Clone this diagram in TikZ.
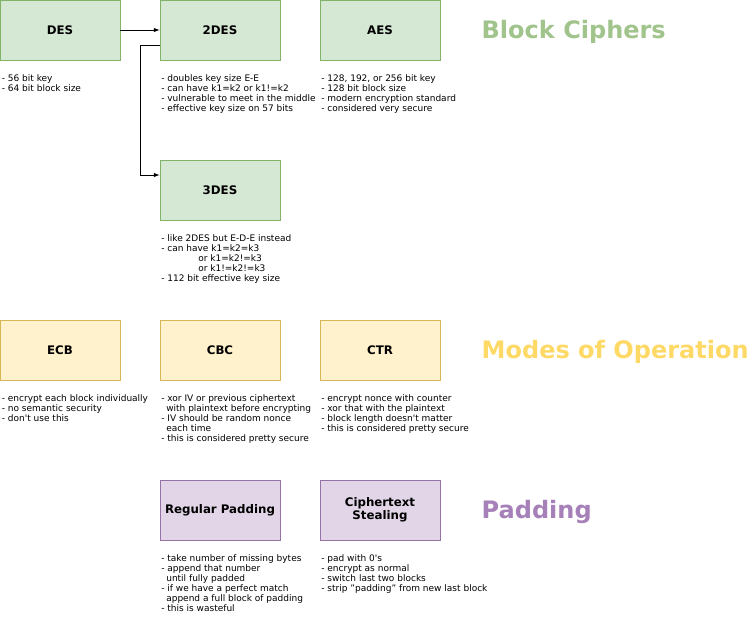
\documentclass[tikz,border=0pt]{standalone}
\usepackage{fontspec}
\setmainfont{DejaVu Sans}

% box and title colours
\definecolor{fillgreen}{HTML}{D5E8D4}
\definecolor{linegreen}{HTML}{82B366}
\definecolor{fillyellow}{HTML}{FFF2CC}
\definecolor{lineyellow}{HTML}{D6B656}
\definecolor{fillpurple}{HTML}{E1D5E7}
\definecolor{linepurple}{HTML}{9673A6}
\definecolor{titlegreen}{HTML}{A0C48C}
\definecolor{titleyellow}{HTML}{FFD966}
\definecolor{titlepurple}{HTML}{A680B8}

\begin{document}
\begin{tikzpicture}[x=1pt,y=-1pt,>=latex,
    box/.style={minimum width=120pt,minimum height=60pt,inner sep=0pt,align=center,
        line width=0.8pt,font=\bfseries\fontsize{11.8}{13}\selectfont},
    note/.style={anchor=north west,inner sep=0pt,align=left,
        font=\fontsize{9}{10}\selectfont},
    title/.style={anchor=base west,inner sep=0pt,
        font=\bfseries\fontsize{24}{28}\selectfont}]
    \useasboundingbox (0,0) rectangle (750,621);
    % the boxes
    \foreach \x/\y/\n/\t/\col in {60/30/des/DES/green,220/30/ddes/2DES/green,
        380/30/aes/AES/green,220/190/tdes/3DES/green,
        60/350/ecb/ECB/yellow,220/350/cbc/CBC/yellow,380/350/ctr/CTR/yellow,
        220/510/regpad/Regular Padding/purple,380/510/cts/{Ciphertext\\Stealing}/purple}
        \node[box,draw=line\col,fill=fill\col] (\n) at (\x,\y) {\t};

    % arrows between the ciphers
    \draw[->,line width=1pt] (des) -- (ddes);
    \draw[->,line width=1pt] ([yshift=-15pt]ddes.west) -- ++(-19.5,0) |- ([yshift=15pt]tdes.west);

    % notes below the boxes
    \node[note] (desnote) at ([shift={(2,14)}]des.south west)
        {- 56 bit key\\- 64 bit block size};
    \node[note] (ddesnote) at ([shift={(1.5,14)}]ddes.south west)
        {- doubles key size E-E\\- can have k1=k2 or k1!=k2\\- vulnerable to meet in the middle\\- effective key size on 57 bits};
    \node[note] (aesnote) at ([shift={(1.5,14)}]aes.south west)
        {- 128, 192, or 256 bit key\\- 128 bit block size\\- modern encryption standard\\- considered very secure};
    \node[note] (tdesnote) at ([shift={(1.5,14)}]tdes.south west)
        {- like 2DES but E-D-E instead\\- can have k1=k2=k3\\\hspace*{37pt}or k1=k2!=k3\\\hspace*{37pt}or k1!=k2!=k3\\- 112 bit effective key size};
    \node[note] (ecbnote) at ([shift={(2,14)}]ecb.south west)
        {- encrypt each block individually\\- no semantic security\\- don\textquotesingle t use this};
    \node[note] (cbcnote) at ([shift={(1.5,14)}]cbc.south west)
        {- xor IV or previous ciphertext\\\hspace*{5pt}with plaintext before encrypting\\- IV should be random nonce\\\hspace*{5pt}each time\\- this is considered pretty secure};
    \node[note] (ctrnote) at ([shift={(1.5,14)}]ctr.south west)
        {- encrypt nonce with counter\\- xor that with the plaintext\\- block length doesn\textquotesingle t matter\\- this is considered pretty secure};
    \node[note] (regpadnote) at ([shift={(1.5,14)}]regpad.south west)
        {- take number of missing bytes\\- append that number\\\hspace*{5pt}until fully padded\\- if we have a perfect match\\\hspace*{5pt}append a full block of padding\\- this is wasteful};
    \node[note] (ctsnote) at ([shift={(1.5,14)}]cts.south west)
        {- pad with 0\textquotesingle s\\- encrypt as normal\\- switch last two blocks\\- strip "padding" from new last block};

    % section titles
    \node[title,text=titlegreen] (blocktitle) at (481.5,38.5) {Block Ciphers};
    \node[title,text=titleyellow] (modestitle) at (481.5,358.5) {Modes of Operation};
    \node[title,text=titlepurple] (paddingtitle) at (481.5,518.5) {Padding};
\end{tikzpicture}
\end{document}
